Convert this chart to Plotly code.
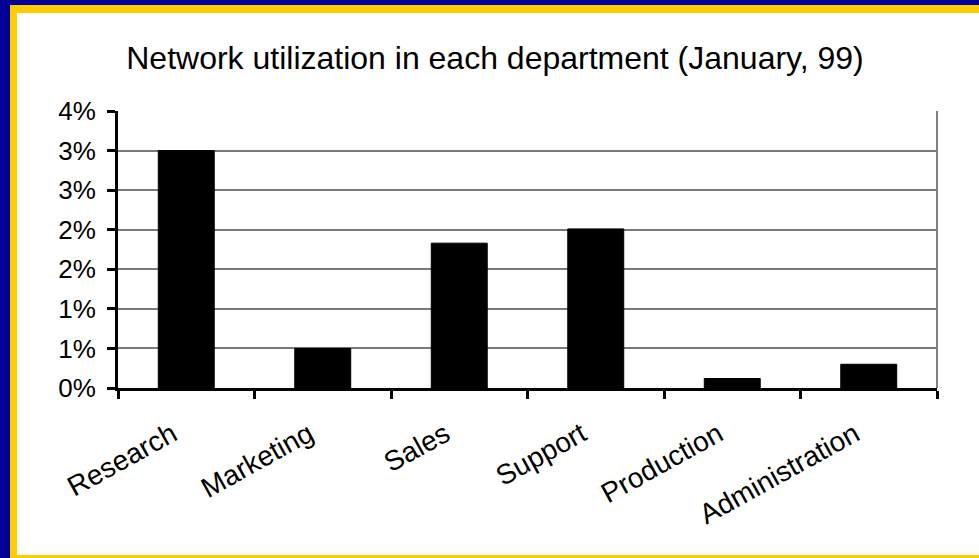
import plotly.graph_objects as go

departments = ["Research", "Marketing", "Sales", "Support", "Production", "Administration"]
utilization_pct = [3.0, 0.5, 1.83, 2.01, 0.12, 0.3]
y_tick_values = [0, 0.5, 1.0, 1.5, 2.0, 2.5, 3.0, 3.5]
y_tick_labels = ["0%", "1%", "1%", "2%", "2%", "3%", "3%", "4%"]

W, H = 979, 558
L, R, T, B = 118, 42, 111, 170
pw, ph = W - L - R, H - T - B

def px_x(p):
    return (p - L) / pw

def px_y(p):
    return (H - B - p) / ph

FONT = "Liberation Sans, Arial, sans-serif"

fig = go.Figure()
fig.add_trace(go.Bar(
    x=departments, y=utilization_pct,
    marker=dict(color="black", line=dict(color="black", width=1)),
    width=0.41,
))

fig.update_layout(
    width=W, height=H,
    margin=dict(l=L, r=R, t=T, b=B),
    paper_bgcolor="#000099",
    plot_bgcolor="white",
    showlegend=False,
    font=dict(family=FONT, color="black", size=24),
    title=dict(
        text="Network utilization in each department (January, 99)",
        x=495 / W, xanchor="center", xref="container",
        y=1 - 58 / H, yanchor="middle", yref="container",
        font=dict(family=FONT, size=32, color="black"),
    ),
    shapes=[
        dict(type="rect", xref="paper", yref="paper", layer="below",
             x0=px_x(10), x1=px_x(1100), y0=px_y(700), y1=px_y(5),
             fillcolor="#FFCC00", line=dict(width=0)),
        dict(type="rect", xref="paper", yref="paper", layer="below",
             x0=px_x(17), x1=px_x(1100), y0=px_y(555), y1=px_y(13),
             fillcolor="white", line=dict(width=0)),
        dict(type="line", xref="paper", yref="paper", layer="above",
             x0=1, x1=1, y0=0, y1=1,
             line=dict(color="#808080", width=2)),
    ],
)

fig.update_yaxes(
    range=[0, 3.5],
    tickvals=y_tick_values, ticktext=y_tick_labels,
    showgrid=True, gridcolor="#7a7a7a", gridwidth=1.5,
    showline=True, linecolor="black", linewidth=3,
    ticks="outside", ticklen=8, tickwidth=3, tickcolor="black",
    ticklabelstandoff=6,
    tickfont=dict(family=FONT, size=26, color="black"),
    zeroline=False,
)
fig.update_xaxes(
    type="category",
    showgrid=False,
    showline=True, linecolor="black", linewidth=3,
    ticks="outside", ticklen=8, tickwidth=3, tickcolor="black",
    tickson="boundaries",
    tickangle=-29,
    ticklabelstandoff=16,
    ticklabelshift=-14,
    tickfont=dict(family=FONT, size=28, color="black"),
)

fig.write_html("out.html", config={"displayModeBar": False},
               post_script="document.body.style.margin='0';")
